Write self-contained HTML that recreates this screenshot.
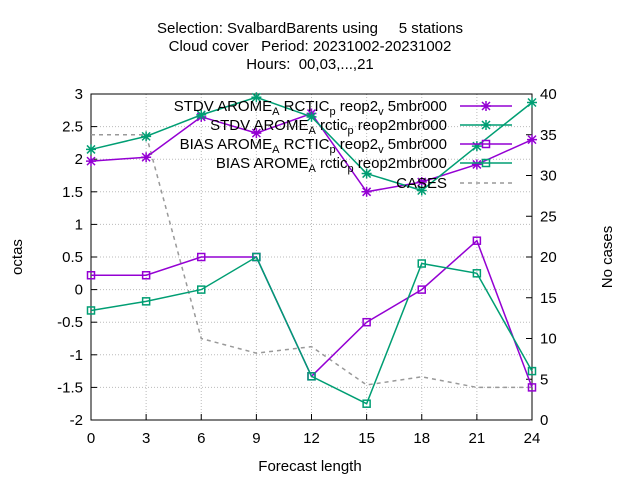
<!DOCTYPE html>
<html><head><meta charset="utf-8"><style>body{margin:0;background:#fff}svg{font-family:"Liberation Sans",sans-serif}text{white-space:pre}</style></head>
<body>
<svg id="c" width="640" height="480" xmlns="http://www.w3.org/2000/svg"></svg>
<script>
const categories=[0,3,6,9,12,15,18,21,24];
const stdvRctic=[1.97,2.03,2.65,2.4,2.7,1.5,1.65,1.92,2.3];
const stdvRctic2=[2.15,2.35,2.68,2.95,2.65,1.78,1.52,2.2,2.87];
const biasRctic=[0.22,0.22,0.5,0.5,-1.33,-0.5,0,0.75,-1.5];
const biasRctic2=[-0.32,-0.18,0,0.5,-1.33,-1.75,0.4,0.25,-1.25];
const cases=[35,35,10,8.2,9,4.3,5.3,4,4];
const yTicks=["-2","-1.5","-1","-0.5","0","0.5","1","1.5","2","2.5","3"];
const y2Ticks=[0,5,10,15,20,25,30,35,40];
const L=91,R=532,T=94,B=420;
const sx=v=>L+(v-0)/24*(R-L);
const sy=v=>B-(v+2)/5*(B-T);
const sy2=v=>B-v/40*(B-T);
const svg=document.getElementById('c');
const NS='http://www.w3.org/2000/svg';
function mk(t,a,name,txt){const e=document.createElementNS(NS,t);for(const k in a)e.setAttribute(k,a[k]);


if(txt!==undefined)e.textContent=txt;svg.appendChild(e);return e;}
yTicks.forEach(t=>{const y=sy(+t);mk('line',{x1:L,x2:R,y1:y,y2:y,stroke:'#bbb','stroke-dasharray':'1,2'},'grid-line-y');
mk('line',{x1:L,x2:L+6,y1:y,y2:y,stroke:'#000'},'y-tick');
mk('text',{x:L-8,y:y+5,'text-anchor':'end','font-size':15},'y-tick-label',t);});
categories.forEach(c=>{const x=sx(c);mk('line',{x1:x,x2:x,y1:T,y2:B,stroke:'#bbb','stroke-dasharray':'1,2'},'grid-line-x');
mk('line',{x1:x,x2:x,y1:B,y2:B-6,stroke:'#000'},'x-tick');
mk('text',{x:x,y:B+23,'text-anchor':'middle','font-size':15},'x-tick-label',String(c));});
y2Ticks.forEach(t=>{const y=sy2(t);mk('line',{x1:R,x2:R-6,y1:y,y2:y,stroke:'#000'},'y2-tick');
mk('text',{x:R+8,y:y+5,'font-size':15},'y2-tick-label',String(t));});
mk('rect',{x:L,y:T,width:R-L,height:B-T,fill:'none',stroke:'#000'},'plot-frame');
["Selection: SvalbardBarents using     5 stations","Cloud cover   Period: 20231002-20231002","Hours:  00,03,...,21"].forEach((s,i)=>
mk('text',{x:310,y:33+i*18,'text-anchor':'middle','font-size':15},'chart-title',s));
mk('text',{x:310,y:471,'text-anchor':'middle','font-size':15},'x-axis-title','Forecast length');
mk('text',{x:22,y:257,'text-anchor':'middle','font-size':15,transform:'rotate(-90 22 257)'},'y-axis-title','octas');
mk('text',{x:612,y:257,'text-anchor':'middle','font-size':15,transform:'rotate(-90 612 257)'},'y2-axis-title','No cases');
function marker(x,y,col,type){
 if(type==='x'){mk('path',{d:`M${x-4} ${y-4}L${x+4} ${y+4}M${x-4} ${y+4}L${x+4} ${y-4}M${x-5} ${y}L${x+5} ${y}M${x} ${y-5}L${x} ${y+5}`,stroke:col,'stroke-width':1.5,fill:'none'},'marker');}
 else mk('rect',{x:x-3.5,y:y-3.5,width:7,height:7,fill:'none',stroke:col,'stroke-width':1.5},'marker');
}
mk('polyline',{points:cases.map((v,i)=>sx(categories[i])+','+sy2(v)).join(' '),fill:'none',stroke:'#999','stroke-width':1.5,'stroke-dasharray':'4,4'},'series-cases');
const series=[[stdvRctic,'#9400d3','x','series-stdv-rctic'],[stdvRctic2,'#009e73','x','series-stdv-rctic-p'],[biasRctic,'#9400d3','s','series-bias-rctic'],[biasRctic2,'#009e73','s','series-bias-rctic-p']];
series.forEach(([d,col,t,n])=>{mk('polyline',{points:d.map((v,i)=>sx(categories[i])+','+sy(v)).join(' '),fill:'none',stroke:col,'stroke-width':1.5},n);
 d.forEach((v,i)=>marker(sx(categories[i]),sy(v),col,t));});
const leg=[["STDV AROME","A","RCTIC","p","reop2","v","5mbr000",'#9400d3','x'],["STDV AROME","A","rctic","p","reop2mbr000","","",'#009e73','x'],["BIAS AROME","A","RCTIC","p","reop2","v","5mbr000",'#9400d3','s'],["BIAS AROME","A","rctic","p","reop2mbr000","","",'#009e73','s']];
leg.forEach((l,i)=>{const y=111+i*19;
 const t=mk('text',{x:447,y:y,'text-anchor':'end','font-size':15},'legend-label');
 const parts=[[l[0],0],[l[1],4],[l[2],-4],[l[3],4],[l[4],-4],[l[5],4],[l[6],-4]];
 parts.forEach(([s,dy])=>{if(!s&&dy)return;const ts=document.createElementNS(NS,'tspan');ts.setAttribute('dy',dy);if(dy>0)ts.setAttribute('font-size',11);ts.textContent=(s===l[2]||s===l[4]||s===l[6]?' ':'')+s;t.appendChild(ts);});
 mk('line',{x1:460,x2:512,y1:y-5,y2:y-5,stroke:l[7],'stroke-width':1.5},'legend-sample');
 marker(486,y-5,l[7],l[8]);});
mk('text',{x:447,y:188,'text-anchor':'end','font-size':15},'legend-label','CASES');
mk('line',{x1:460,x2:512,y1:183,y2:183,stroke:'#999','stroke-width':1.5,'stroke-dasharray':'4,4'},'legend-sample');
</script>
</body></html>
